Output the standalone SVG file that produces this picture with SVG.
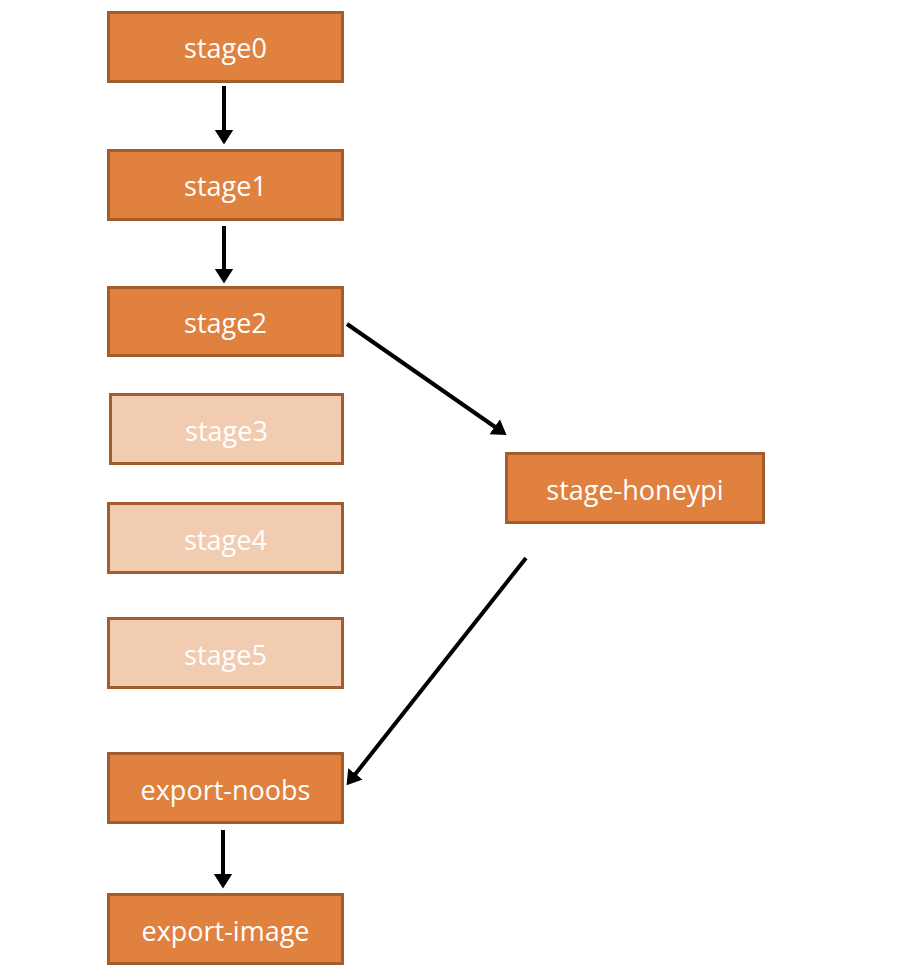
<svg xmlns="http://www.w3.org/2000/svg" width="906" height="974" viewBox="0 0 906 974">
<style>
.n rect{fill:#E0813F;stroke:#A45C2E;stroke-width:3}
.n.f rect{fill:#F1CCB0}
.n text{fill:#fff;font-family:"Open Sans","Liberation Sans",sans-serif;font-size:27px;text-anchor:middle;dominant-baseline:central}
.c line{stroke:#000;stroke-width:4;marker-end:url(#a)}
</style>
<defs>
<marker id="a" markerWidth="5" markerHeight="5" refX="1" refY="2.5" orient="auto" markerUnits="strokeWidth">
<path d="M0,0.2 L3.6,2.5 L0,4.8 Z" fill="#000"/>
</marker>
</defs>
<rect width="906" height="974" fill="#fff"/>
<g id="stage0" class="n"><rect x="108.5" y="12.5" width="234" height="69"/><text x="225.5" y="47">stage0</text></g>
<g id="stage1" class="n"><rect x="108.5" y="150.5" width="234" height="69"/><text x="225.5" y="185">stage1</text></g>
<g id="stage2" class="n"><rect x="108.5" y="287.5" width="234" height="68"/><text x="225.5" y="322">stage2</text></g>
<g id="stage3" class="n f"><rect x="110.5" y="394.5" width="232" height="69"/><text x="226.5" y="430">stage3</text></g>
<g id="stage4" class="n f"><rect x="108.5" y="503.5" width="234" height="69"/><text x="225.5" y="539">stage4</text></g>
<g id="stage5" class="n f"><rect x="108.5" y="618.5" width="234" height="69"/><text x="225.5" y="654">stage5</text></g>
<g id="stage-honeypi" class="n"><rect x="506.5" y="453.5" width="257" height="69"/><text x="635" y="489">stage-honeypi</text></g>
<g id="export-noobs" class="n"><rect x="108.5" y="753.5" width="234" height="69"/><text x="225.5" y="789">export-noobs</text></g>
<g id="export-image" class="n"><rect x="108.5" y="894.5" width="234" height="69"/><text x="225.5" y="930">export-image</text></g>
<g id="connectors" class="c">
<line x1="224" y1="86" x2="224" y2="134"/>
<line x1="224" y1="226" x2="224" y2="273"/>
<line x1="347" y1="324" x2="498" y2="429"/>
<line x1="526" y1="558" x2="353" y2="777"/>
<line x1="223" y1="830" x2="223" y2="878"/>
</g>
</svg>
